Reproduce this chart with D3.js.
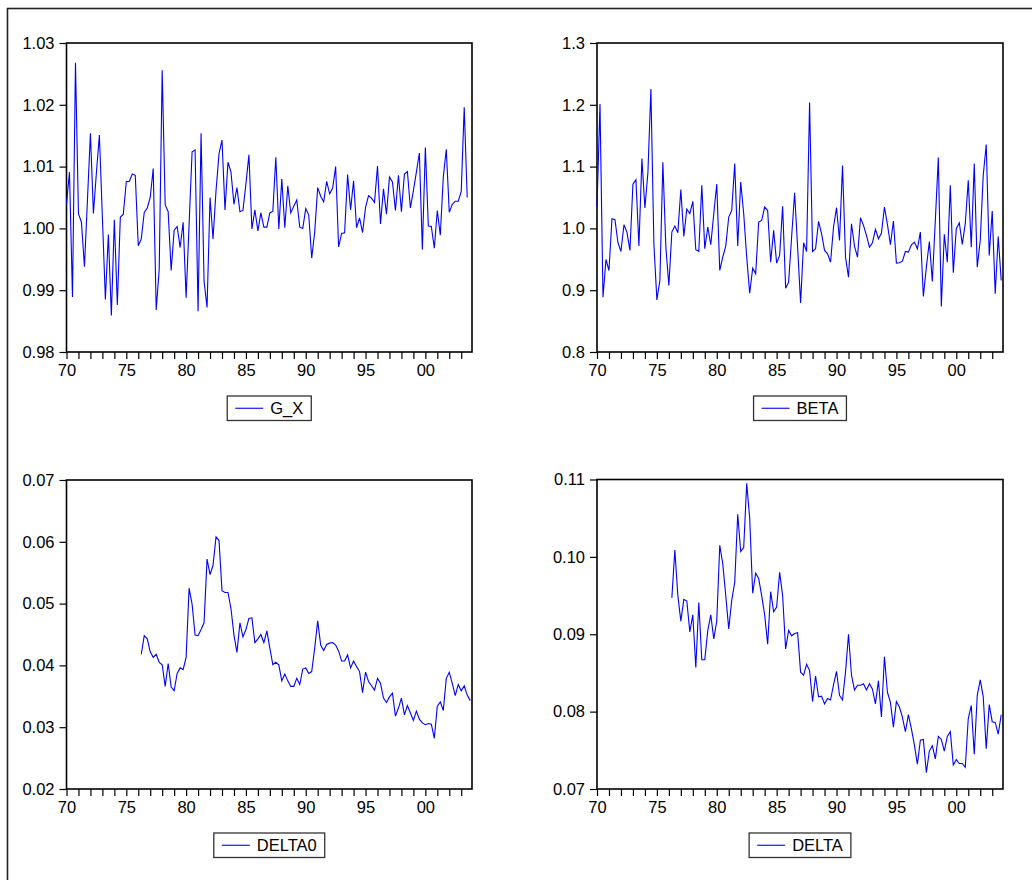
<!DOCTYPE html>
<html>
<head>
<meta charset="utf-8">
<script src="https://cdn.jsdelivr.net/npm/d3@7"></script>
<style>
  body { margin: 0; background: #fff; }
  svg { display: block; }
  text { font-family: Arial, "Liberation Sans", sans-serif; fill: #000; }
</style>
</head>
<body>
<svg id="chart" width="1032" height="880"></svg>
<script>
// quarterly series, first value is 1970Q1 unless a start is given
let startYear = 1970;
let yearTicks = d3.range(1970, 2004);

let gx = [
  1.0039, 1.0091, 0.9889, 1.0268, 1.0024, 1.0010, 0.9938, 1.0045, 1.0154, 1.0024,
  1.0090, 1.0151, 1.0018, 0.9885, 0.9990, 0.9859, 1.0014, 0.9876, 1.0018, 1.0023,
  1.0076, 1.0076, 1.0088, 1.0086, 0.9972, 0.9983, 1.0026, 1.0033, 1.0050, 1.0097,
  0.9868, 0.9934, 1.0256, 1.0038, 1.0027, 0.9932, 0.9997, 1.0003, 0.9969, 1.0010,
  0.9888, 1.0007, 1.0124, 1.0127, 0.9866, 1.0154, 0.9915, 0.9872, 1.0050, 0.9983,
  1.0061, 1.0121, 1.0143, 1.0030, 1.0107, 1.0091, 1.0039, 1.0066, 1.0027, 1.0029,
  1.0072, 1.0119, 0.9999, 1.0030, 0.9996, 1.0025, 1.0002, 1.0002, 1.0025, 1.0028,
  1.0115, 0.9999, 1.0080, 1.0001, 1.0069, 1.0025, 1.0036, 1.0046, 1.0002, 1.0000,
  1.0032, 1.0022, 0.9952, 0.9994, 1.0066, 1.0052, 1.0043, 1.0076, 1.0056, 1.0065,
  1.0100, 0.9970, 0.9992, 0.9993, 1.0087, 1.0030, 1.0077, 1.0001, 1.0017, 0.9993,
  1.0034, 1.0053, 1.0049, 1.0042, 1.0101, 1.0007, 1.0064, 1.0023, 1.0083, 1.0075,
  1.0029, 1.0086, 1.0027, 1.0088, 1.0092, 1.0033, 1.0061, 1.0091, 1.0122, 0.9966,
  1.0131, 1.0004, 1.0003, 0.9968, 1.0029, 0.9989, 1.0083, 1.0128, 1.0026, 1.0039,
  1.0044, 1.0044, 1.0060, 1.0196, 1.0050
];

let beta = [
  1.0346, 1.2011, 0.8886, 0.9497, 0.9319, 1.0157, 1.0141, 0.9768, 0.9627, 1.0059,
  0.9941, 0.9643, 1.0714, 1.0789, 0.9714, 1.1130, 1.0330, 1.0900, 1.2254, 0.9751,
  0.8843, 0.9157, 1.1070, 0.9697, 0.9076, 0.9941, 1.0038, 0.9930, 1.0627, 0.9870,
  1.0314, 1.0238, 1.0438, 0.9654, 0.9627, 1.0697, 0.9670, 1.0022, 0.9735, 1.0238,
  1.0719, 0.9319, 0.9535, 0.9714, 1.0184, 1.0292, 1.1049, 0.9714, 1.0751, 1.0238,
  0.9535, 0.8951, 0.9357, 0.9265, 1.0103, 1.0130, 1.0346, 1.0292, 0.9454, 0.9968,
  0.9438, 0.9562, 1.0357, 0.9032, 0.9130, 0.9860, 1.0578, 0.9700, 0.8795, 0.9768,
  0.9627, 1.2038, 0.9627, 0.9670, 1.0114, 0.9914, 0.9643, 0.9589, 0.9454, 1.0022,
  1.0335, 0.9805, 1.1016, 0.9535, 0.9211, 1.0076, 0.9714, 0.9535, 1.0173, 1.0049,
  0.9886, 0.9697, 0.9768, 0.9984, 0.9832, 0.9924, 1.0346, 1.0065, 0.9735, 1.0119,
  0.9438, 0.9443, 0.9470, 0.9627, 0.9616, 0.9735, 0.9778, 0.9670, 0.9941, 0.8897,
  0.9370, 0.9789, 0.9141, 1.0130, 1.1146, 0.8735, 0.9903, 0.9454, 1.0697, 0.9281,
  0.9995, 1.0092, 0.9741, 1.0076, 1.0778, 0.9697, 1.1049, 0.9373, 0.9805, 1.0860,
  1.1357, 0.9562, 1.0281, 0.8941, 0.9870, 0.9157
];

// both delta series start in 1976Q2
let deltaStart = 1976.25;

let delta0 = [
  0.0418, 0.0448, 0.0443, 0.0422, 0.0413, 0.0418, 0.0405, 0.0401, 0.0366, 0.0403,
  0.0365, 0.0359, 0.0387, 0.0396, 0.0393, 0.0413, 0.0525, 0.0499, 0.0449, 0.0448,
  0.0458, 0.0469, 0.0572, 0.0547, 0.0562, 0.0608, 0.0602, 0.0521, 0.0518, 0.0518,
  0.0492, 0.0449, 0.0421, 0.0469, 0.0446, 0.0458, 0.0476, 0.0477, 0.0437, 0.0443,
  0.0450, 0.0437, 0.0456, 0.0428, 0.0401, 0.0405, 0.0401, 0.0375, 0.0386, 0.0375,
  0.0366, 0.0366, 0.0379, 0.0369, 0.0394, 0.0396, 0.0387, 0.0390, 0.0428, 0.0472,
  0.0433, 0.0424, 0.0434, 0.0436, 0.0437, 0.0433, 0.0423, 0.0407, 0.0407, 0.0417,
  0.0396, 0.0407, 0.0398, 0.0390, 0.0356, 0.0389, 0.0374, 0.0367, 0.0360, 0.0379,
  0.0371, 0.0347, 0.0340, 0.0349, 0.0355, 0.0318, 0.0331, 0.0347, 0.0320, 0.0335,
  0.0323, 0.0311, 0.0326, 0.0313, 0.0307, 0.0304, 0.0306, 0.0305, 0.0282, 0.0334,
  0.0341, 0.0327, 0.0379, 0.0389, 0.0371, 0.0351, 0.0369, 0.0359, 0.0367, 0.0352,
  0.0343
];

let delta = [
  0.0947, 0.1009, 0.0950, 0.0917, 0.0945, 0.0943, 0.0903, 0.0925, 0.0857, 0.0941,
  0.0867, 0.0867, 0.0905, 0.0925, 0.0894, 0.0917, 0.1015, 0.0991, 0.0950, 0.0907,
  0.0944, 0.0967, 0.1055, 0.1007, 0.1012, 0.1095, 0.1050, 0.0953, 0.0979, 0.0972,
  0.0950, 0.0925, 0.0887, 0.0955, 0.0929, 0.0935, 0.0980, 0.0950, 0.0881, 0.0905,
  0.0898, 0.0901, 0.0902, 0.0851, 0.0847, 0.0861, 0.0853, 0.0813, 0.0846, 0.0819,
  0.0820, 0.0810, 0.0817, 0.0815, 0.0835, 0.0852, 0.0821, 0.0815, 0.0851, 0.0900,
  0.0847, 0.0828, 0.0834, 0.0834, 0.0836, 0.0828, 0.0836, 0.0829, 0.0810, 0.0840,
  0.0793, 0.0871, 0.0825, 0.0812, 0.0780, 0.0813, 0.0806, 0.0793, 0.0774, 0.0796,
  0.0778, 0.0757, 0.0732, 0.0763, 0.0764, 0.0721, 0.0749, 0.0756, 0.0739, 0.0768,
  0.0764, 0.0749, 0.0768, 0.0774, 0.0731, 0.0738, 0.0733, 0.0733, 0.0728, 0.0791,
  0.0808, 0.0745, 0.0821, 0.0841, 0.0819, 0.0752, 0.0809, 0.0787, 0.0786, 0.0771,
  0.0796
];

let gxTicks = [0.98, 0.99, 1.00, 1.01, 1.02, 1.03];
let betaTicks = [0.8, 0.9, 1.0, 1.1, 1.2, 1.3];
let delta0Ticks = [0.02, 0.03, 0.04, 0.05, 0.06, 0.07];
let deltaTicks = [0.07, 0.08, 0.09, 0.10, 0.11];

let panels = [
  { name: "G_X", values: gx, start: startYear, ticks: gxTicks, fmt: ".2f", left: 66.5, top: 43, right: 472, bottom: 352 },
  { name: "BETA", values: beta, start: startYear, ticks: betaTicks, fmt: ".1f", left: 597, top: 43, right: 1003, bottom: 352 },
  { name: "DELTA0", values: delta0, start: deltaStart, ticks: delta0Ticks, fmt: ".2f", left: 66.5, top: 480, right: 472, bottom: 789 },
  { name: "DELTA", values: delta, start: deltaStart, ticks: deltaTicks, fmt: ".2f", left: 597, top: 479.5, right: 1003, bottom: 789 },
];

let svg = d3.select("#chart");

// outer frame, runs off the right and bottom edges
svg.append("rect")
  .attr("x", 7.5).attr("y", 8.5)
  .attr("width", 1100).attr("height", 1000)
  .attr("fill", "none")
  .attr("stroke", "#222")
  .attr("stroke-width", 1.6);

panels.forEach((p) => {
  let x = d3.scaleLinear().domain([1970, 2003.9]).range([p.left, p.right]);
  let yExt = d3.extent(p.ticks);
  let y = d3.scaleLinear().domain(yExt).range([p.bottom, p.top]);

  let g = svg.append("g");

  // y axis
  let yAxis = g.append("g")
    .attr("transform", `translate(${p.left},0)`)
    .call(d3.axisLeft(y).tickValues(p.ticks).tickFormat(d3.format(p.fmt)).tickSize(7).tickPadding(5));

  // x axis, a tick every year, labels every 5 years
  let xAxis = g.append("g")
    .attr("transform", `translate(0,${p.bottom})`)
    .call(d3.axisBottom(x)
      .tickValues(yearTicks)
      .tickSize(7)
      .tickPadding(4)
      .tickFormat((d) => (d % 5 === 0 ? d3.format("02d")(d % 100) : "")));

  [yAxis, xAxis].forEach((a) => {
    a.select(".domain").remove();
    a.selectAll("line").attr("stroke", "#000").attr("stroke-width", 1.2);
    a.selectAll("text").attr("font-size", 16.5).attr("fill", "#000")
      .attr("font-family", 'Arial, "Liberation Sans", sans-serif');
  });
  xAxis.selectAll("text").attr("dy", "0.8em");

  // plot frame
  g.append("rect")
    .attr("x", p.left).attr("y", p.top)
    .attr("width", p.right - p.left).attr("height", p.bottom - p.top)
    .attr("fill", "none")
    .attr("stroke", "#000")
    .attr("stroke-width", 1.6);

  let line = d3.line()
    .x((d, i) => x(p.start + i / 4))
    .y((d) => y(d));

  g.append("path")
    .datum(p.values)
    .attr("d", line)
    .attr("fill", "none")
    .attr("stroke", "#0000ff")
    .attr("stroke-width", 1.1)
    .attr("stroke-linejoin", "miter");

  // legend below the plot
  let cx = (p.left + p.right) / 2;
  let ly = p.bottom + 44;
  let leg = g.append("g");
  let label = leg.append("text")
    .attr("font-size", 16.5)
    .text(p.name);
  let tw = label.node().getComputedTextLength();
  let bw = 43 + tw + 8;
  let bx = cx - bw / 2;
  leg.insert("rect", "text")
    .attr("x", bx).attr("y", ly)
    .attr("width", bw).attr("height", 24.5)
    .attr("fill", "#fff")
    .attr("stroke", "#333")
    .attr("stroke-width", 1.3);
  leg.append("line")
    .attr("x1", bx + 8).attr("x2", bx + 36)
    .attr("y1", ly + 12.25).attr("y2", ly + 12.25)
    .attr("stroke", "#0000ff")
    .attr("stroke-width", 1.1);
  label.attr("x", bx + 43).attr("y", ly + 18.3);
});
</script>
</body>
</html>
